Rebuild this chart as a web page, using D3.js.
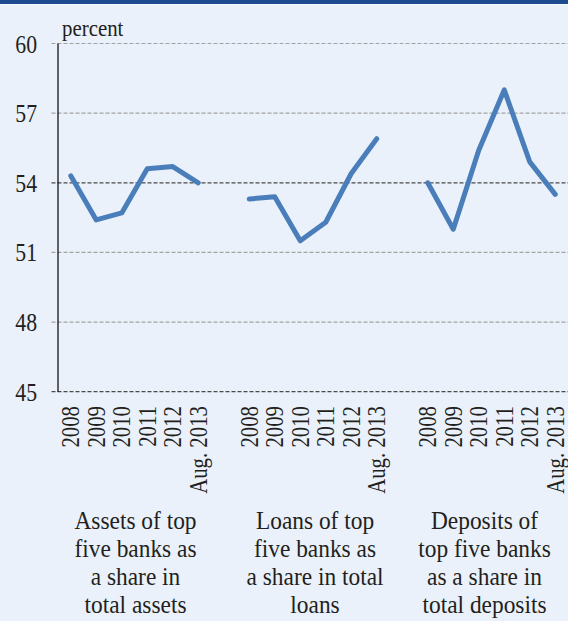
<!DOCTYPE html>
<html>
<head>
<meta charset="utf-8">
<script src="https://cdn.jsdelivr.net/npm/d3@7"></script>
<style>
  html, body { margin: 0; padding: 0; background: #eaf1fa; }
  svg { display: block; }
  text { font-family: "Liberation Serif", "Times New Roman", serif; fill: #231f20; }
</style>
</head>
<body>
<svg id="chart" width="568" height="621"></svg>
<script>
// Concentration of the banking sector: share of the top five banks
const years = ["2008", "2009", "2010", "2011", "2012", "Aug. 2013"];
const assets = [54.3, 52.4, 52.7, 54.6, 54.7, 54.0];
const loans = [53.3, 53.4, 51.5, 52.3, 54.4, 55.9];
const deposits = [54.0, 52.0, 55.4, 58.0, 54.9, 53.5];
const groupNames = ["assets", "loans", "deposits"];
const groupLabels = [
  ["Assets of top", "five banks as", "a share in", "total assets"],
  ["Loans of top", "five banks as", "a share in total", "loans"],
  ["Deposits of", "top five banks", "as a share in", "total deposits"]
];
const yTicks = [45, 48, 51, 54, 57, 60];
const unitLabel = "percent";

const series = [assets, loans, deposits];

const W = 568, H = 621;
const svg = d3.select("#chart");

// header band
svg.append("rect").attr("x", 0).attr("y", 0).attr("width", W).attr("height", 4).attr("fill", "#1d4b8f");
svg.append("rect").attr("x", 0).attr("y", 4).attr("width", W).attr("height", 1.5).attr("fill", "#f7fafd");
svg.append("rect").attr("x", 0).attr("y", 5.5).attr("width", W).attr("height", H - 5.5).attr("fill", "#eaf1fa");

// one slot per year, with an empty slot between groups
const slotKeys = [];
groupNames.forEach((g, gi) => {
  years.forEach(yr => slotKeys.push(g + "|" + yr));
  if (gi < groupNames.length - 1) slotKeys.push("gap" + gi);
});

const x = d3.scaleBand().domain(slotKeys).range([58, 568]).paddingInner(0).paddingOuter(0);
const cx = k => x(k) + x.bandwidth() / 2;
const y = d3.scaleLinear().domain([45, 60]).range([391.7, 43.5]);

// horizontal gridlines
const grid = svg.append("g");
yTicks.forEach(t => {
  const dark = (t === 54 || t === 45);
  grid.append("line")
    .attr("x1", 51.5).attr("x2", W)
    .attr("y1", y(t)).attr("y2", y(t))
    .attr("stroke", dark ? "#4a4a4a" : "#a3a3a3")
    .attr("stroke-width", 1.2)
    .attr("stroke-dasharray", "4,2");
});

// the typeface is slightly condensed: glyphs are narrower than they are tall
const squeeze = 0.87;

// vertical axis
const yAxis = d3.axisLeft(y).tickValues(yTicks).tickSize(0).tickPadding(0);
const gy = svg.append("g").attr("transform", "translate(58,0)").call(yAxis);
gy.select(".domain").attr("stroke", "#000").attr("stroke-width", 1.2).attr("d", `M0,${y(60)}V${y(45)}`);
gy.selectAll(".tick text")
  .attr("transform", `scale(${squeeze},1)`)
  .attr("x", -21 / squeeze)
  .attr("dy", "0.34em")
  .attr("text-anchor", "end")
  .style("font-size", "25px")
  .style("font-family", "'Liberation Serif', serif")
  .attr("fill", "#231f20");

svg.append("text")
  .attr("transform", `translate(62,36) scale(${squeeze},1)`)
  .style("font-size", "24px")
  .text(unitLabel);

// lines
const line = d3.line().x(d => cx(d.key)).y(d => y(d.v));
series.forEach((vals, gi) => {
  const pts = vals.map((v, i) => ({ key: groupNames[gi] + "|" + years[i], v }));
  svg.append("path")
    .datum(pts)
    .attr("d", line)
    .attr("fill", "none")
    .attr("stroke", "#4a7ebb")
    .attr("stroke-width", 5)
    .attr("stroke-linejoin", "round")
    .attr("stroke-linecap", "round");
});

// rotated year labels
const xAxisG = svg.append("g");
groupNames.forEach(g => {
  years.forEach(yr => {
    xAxisG.append("text")
      .attr("transform", `translate(${cx(g + "|" + yr)},406) rotate(-90) scale(0.85,1)`)
      .attr("text-anchor", "end")
      .attr("dy", "0.34em")
      .style("font-size", "24.5px")
      .text(yr);
  });
});

// group captions
const captionX = [
  (cx("assets|2008") + cx("assets|Aug. 2013")) / 2 + 1,
  (cx("loans|2008") + cx("loans|Aug. 2013")) / 2 + 2,
  (cx("deposits|2008") + cx("deposits|Aug. 2013")) / 2 - 7
];
groupLabels.forEach((lines, gi) => {
  const t = svg.append("text")
    .attr("transform", `translate(${captionX[gi]},0) scale(0.9,1)`)
    .attr("text-anchor", "middle")
    .style("font-size", "26px");
  lines.forEach((ln, li) => {
    t.append("tspan").attr("x", 0).attr("y", 529 + li * 28).text(ln);
  });
});
</script>
</body>
</html>
